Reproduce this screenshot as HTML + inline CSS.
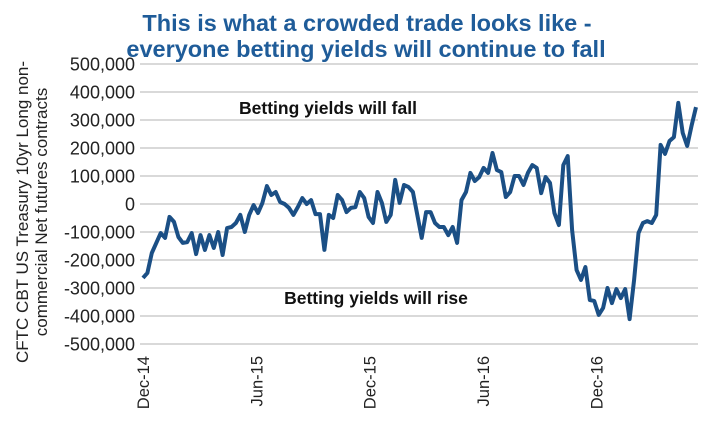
<!DOCTYPE html>
<html><head><meta charset="utf-8"><style>
body{margin:0;background:#fff;}
svg{display:block;font-family:"Liberation Sans",sans-serif;}
</style></head><body>
<svg width="728" height="448" viewBox="0 0 728 448">
<text x="367" y="31" text-anchor="middle" font-size="23.5" font-weight="bold" fill="#1f5c99">This is what a crowded trade looks like -</text>
<text x="366" y="57" text-anchor="middle" font-size="23.5" font-weight="bold" fill="#1f5c99">everyone betting yields will continue to fall</text>
<g id="grid"></g>
<g id="yticks"></g>
<g id="xticks"></g>
<text transform="translate(28,212) rotate(-90)" text-anchor="middle" font-size="17" fill="#222">CFTC CBT US Treasury 10yr  Long non-</text>
<text transform="translate(47,212) rotate(-90)" text-anchor="middle" font-size="17" fill="#222">commercial Net futures contracts</text>
<path id="series" fill="none" stroke="#1b4f85" stroke-width="4" stroke-linejoin="round"></path>
<text x="328" y="114" text-anchor="middle" font-size="17.5" font-weight="bold" fill="#111">Betting yields will fall</text>
<text x="376" y="304" text-anchor="middle" font-size="17.5" font-weight="bold" fill="#111">Betting yields will rise</text>
</svg>
<script>
const values = [-264,-246,-175,-139,-104,-121,-46,-64,-118,-139,-136,-104,-179,-111,-164,-111,-157,-100,-182,-86,-82,-68,-39,-100,-39,-4,-32,4,64,32,43,7,0,-14,-39,-11,21,0,14,-36,-36,-164,-39,-50,32,14,-29,-14,-11,43,21,-46,-68,43,4,-64,-39,86,4,68,61,43,-39,-121,-29,-29,-68,-82,-82,-111,-82,-139,14,43,111,82,96,129,111,182,121,114,25,43,100,100,68,111,139,129,39,96,75,-32,-75,139,171,-93,-236,-271,-225,-343,-346,-396,-371,-300,-354,-304,-336,-304,-411,-271,-104,-68,-61,-68,-39,211,179,225,239,361,254,207,280,346];
const yTicks = [500,400,300,200,100,0,-100,-200,-300,-400,-500];
const yTickLabels = ["500,000","400,000","300,000","200,000","100,000","0","-100,000","-200,000","-300,000","-400,000","-500,000"];
const xTickLabels = ["Dec-14","Jun-15","Dec-15","Jun-16","Dec-16"];
const xTickFrac = [0,0.205,0.41,0.615,0.82];
const NS='http://www.w3.org/2000/svg';
const x0=143,x1=696;
function yScale(v){return 204-v*0.28;}
function xScale(i){return x0+i*(x1-x0)/(values.length-1);}
function xFrac(f){return x0+f*(x1-x0);}
const grid=document.getElementById('grid'),yt=document.getElementById('yticks'),xt=document.getElementById('xticks');
yTicks.forEach((v,k)=>{
  const l=document.createElementNS(NS,'line');
  l.setAttribute('x1',x0-3);l.setAttribute('x2',x1+2);
  l.setAttribute('y1',yScale(v));l.setAttribute('y2',yScale(v));
  l.setAttribute('stroke','#d9d9d9');l.setAttribute('stroke-width','2');
  
  
  grid.appendChild(l);
  const t=document.createElementNS(NS,'text');
  t.setAttribute('x',135);t.setAttribute('y',yScale(v)+6.5);
  t.setAttribute('text-anchor','end');t.setAttribute('font-size','18');t.setAttribute('fill','#222');
  t.textContent=yTickLabels[k];
  
  
  yt.appendChild(t);
});
xTickLabels.forEach((s,k)=>{
  const x=xFrac(xTickFrac[k]);
  const t=document.createElementNS(NS,'text');
  t.setAttribute('transform','translate('+(x+6)+',356) rotate(-90)');
  t.setAttribute('text-anchor','end');t.setAttribute('font-size','16.5');t.setAttribute('fill','#222');
  t.textContent=s;
  
  
  xt.appendChild(t);
});
document.getElementById('series').setAttribute('d',values.map((v,i)=>(i?'L':'M')+xScale(i).toFixed(1)+' '+yScale(v).toFixed(1)).join(' '));
</script>
</body></html>
